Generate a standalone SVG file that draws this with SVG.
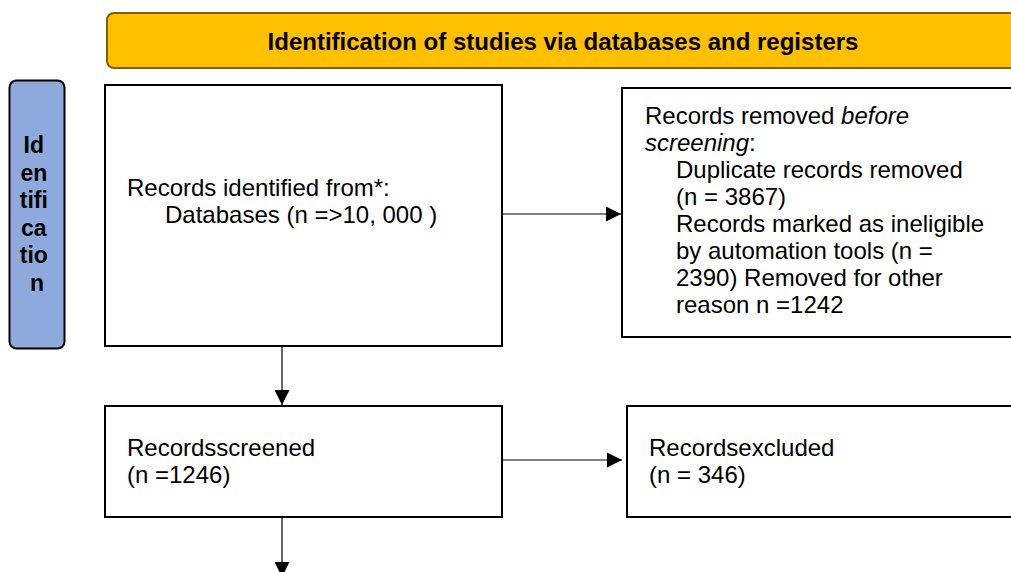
<svg xmlns="http://www.w3.org/2000/svg" width="1011" height="572" viewBox="0 0 1011 572">
<style>
  .box { fill: #ffffff; stroke: #000000; stroke-width: 2; }
  .t { font-family: "Liberation Sans", Arial, sans-serif; font-size: 24px; fill: #000000; }
  .tb { font-family: "Liberation Sans", Arial, sans-serif; font-weight: bold; fill: #000000; }
  .conn { stroke: #000000; stroke-width: 1.2; fill: none; marker-end: url(#arrow); }
</style>
<defs>
  <marker id="arrow" markerUnits="userSpaceOnUse" markerWidth="16" markerHeight="15" refX="15" refY="7.5" orient="auto">
    <path d="M0,0 L15,7.5 L0,15 z" fill="#000000"/>
  </marker>
</defs>
<rect width="1011" height="572" fill="#ffffff"/>

<g id="header">
  <rect x="107" y="13" width="920" height="55" rx="7" ry="7" fill="#FFC000" stroke="#7F6000" stroke-width="2"/>
  <text class="tb" x="563" y="50" font-size="24" text-anchor="middle">Identification of studies via databases and registers</text>
</g>

<g id="phase-identification">
  <rect x="9.5" y="80.5" width="55" height="268" rx="7" ry="7" fill="#8EA9DB" stroke="#000000" stroke-width="2"/>
  <text class="tb" font-size="23" text-anchor="middle">
    <tspan x="37" y="153">Id</tspan>
    <tspan x="37" y="180.5">en</tspan>
    <tspan x="37" y="208">tifi</tspan>
    <tspan x="37" y="235.5">ca</tspan>
    <tspan x="37" y="263">tio</tspan>
    <tspan x="37" y="290.5">n</tspan>
  </text>
</g>

<g id="records-identified">
  <rect class="box" x="105" y="85" width="397" height="261"/>
  <text class="t"><tspan x="127" y="196">Records identified from*:</tspan><tspan x="165" y="223">Databases (n =&gt;10, 000 )</tspan></text>
</g>

<g id="records-removed">
  <rect class="box" x="622" y="88" width="400" height="249"/>
  <text class="t">
    <tspan x="645" y="124">Records removed <tspan font-style="italic">before</tspan></tspan>
    <tspan x="645" y="151"><tspan font-style="italic">screening</tspan>:</tspan>
    <tspan x="676" y="178">Duplicate records removed</tspan>
    <tspan x="676" y="205">(n = 3867)</tspan>
    <tspan x="676" y="232">Records marked as ineligible</tspan>
    <tspan x="676" y="259">by automation tools (n =</tspan>
    <tspan x="676" y="286">2390) Removed for other</tspan>
    <tspan x="676" y="313">reason n =1242</tspan>
  </text>
</g>

<g id="records-screened">
  <rect class="box" x="105" y="406" width="397" height="111"/>
  <text class="t"><tspan x="127" y="456">Recordsscreened</tspan><tspan x="127" y="483">(n =1246)</tspan></text>
</g>

<g id="records-excluded">
  <rect class="box" x="627" y="406" width="395" height="111"/>
  <text class="t"><tspan x="649" y="456">Recordsexcluded</tspan><tspan x="649" y="483">(n = 346)</tspan></text>
</g>

<g id="connectors">
  <line class="conn" x1="502" y1="214" x2="621" y2="214"/>
  <line class="conn" x1="282" y1="346" x2="282" y2="405"/>
  <line class="conn" x1="502" y1="460" x2="622" y2="460"/>
  <line class="conn" x1="282" y1="517" x2="282" y2="577"/>
</g>
</svg>
